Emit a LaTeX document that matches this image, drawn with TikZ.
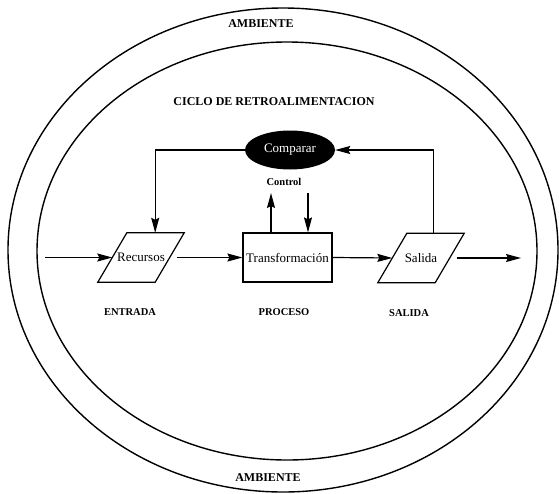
\documentclass[tikz,border=0pt]{standalone}
\usepackage{fontspec}
\setmainfont{Liberation Serif}
\usetikzlibrary{arrows.meta,shapes.geometric}
\begin{document}
\begin{tikzpicture}[x=1pt,y=-1pt,
  ring/.style={line width=1.4pt},
  edge/.style={line width=1.2pt},
  conn/.style={edge,-{Stealth[length=15pt,width=8pt,inset=2pt]}},
  head/.style={font=\fontsize{12}{14}\selectfont\bfseries},
  lab/.style={font=\fontsize{10.5}{12}\selectfont\bfseries},
  body/.style={font=\fontsize{13}{15}\selectfont},
  % body of a slanted block: the outline is added by \slanted below
  para/.style={rectangle,minimum width=57pt,minimum height=49pt,inner sep=0pt,body},
]
\useasboundingbox (0,0) rectangle (559,493);

% environment and feedback-cycle boundaries
\draw[ring] (283,250) ellipse [x radius=275pt, y radius=242pt];
\draw[ring] (287,251) ellipse [x radius=250pt, y radius=209pt];

\node[head] (amb1) at (261,24) {AMBIENTE};
\node[head] (amb2) at (268,478) {AMBIENTE};
\node[head] (ciclo) at (274,102) {CICLO DE RETROALIMENTACION};

% process blocks
\node[para] (rec) at (141,257.5) {Recursos};
\node[draw,edge,minimum width=89pt,minimum height=49pt,inner sep=0pt,body]
  (trans) at (287.5,257.5) {Transformación};
\node[para] (sal) at (421,258) {Salida};
\node[ellipse,fill=black,text=white,minimum width=90pt,minimum height=39pt,
  inner sep=0pt,body] (cmp) at (290,150) {Comparar};
\node[lab] (ctrl) at (284,182) {Control};

% parallelogram outlines of the input and output blocks
\foreach \b in {rec,sal}
  \draw[edge,line join=miter]
    ([xshift=14.5pt]\b.north west) -- ([xshift=14.5pt]\b.north east)
    -- ([xshift=-14.5pt]\b.south east) -- ([xshift=-14.5pt]\b.south west) -- cycle;

\node[lab] (ent) at (130,312) {ENTRADA};
\node[lab] (proc) at (284,312) {PROCESO};
\node[lab] (salt) at (409,313) {SALIDA};

% main flow
\coordinate (in) at (45,257.5);
\coordinate (out) at (521,258);
\draw[conn] (in) -- (rec.west);
\draw[conn] ([xshift=7pt]rec.east) -- (trans.west);
\draw[conn] (trans.east) -- (sal.west);
\draw[conn] ([xshift=7pt]sal.east) -- (out);

% feedback loop
\draw[conn] (cmp.west) -| ([xshift=-14.5pt]rec.north east);
\draw[conn] ([xshift=-16pt]sal.north east) |- (cmp.east);

% control signals
\coordinate (cu) at (271,193);
\coordinate (cd) at (308,193);
\draw[conn] (trans.north -| cu) -- (cu);
\draw[conn] (cd) -- (trans.north -| cd);
\end{tikzpicture}
\end{document}
